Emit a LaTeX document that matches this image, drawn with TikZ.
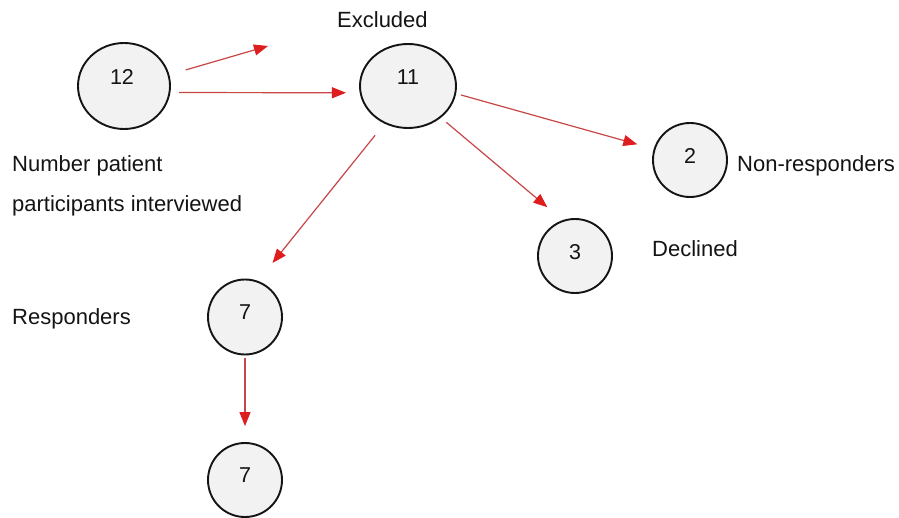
\documentclass[tikz,border=0pt]{standalone}
\usepackage{fontspec}
\setmainfont{Liberation Sans}
\usetikzlibrary{shapes.geometric,arrows.meta}
\definecolor{ink}{RGB}{20,20,20}
\definecolor{disc}{RGB}{242,242,242}
\definecolor{shaft}{RGB}{200,70,70}
\definecolor{tip}{RGB}{222,30,30}
\begin{document}
\begin{tikzpicture}[x=1pt,y=-1pt,
  bubble/.style={ellipse,draw=ink,line width=1.9pt,fill=disc,inner sep=0pt},
  small/.style={bubble,minimum width=74pt,minimum height=74pt},
  big/.style={bubble,minimum width=94pt,minimum height=86pt},
  num/.style={font=\fontsize{21.5}{25}\selectfont,text=ink,inner sep=0pt},
  caption/.style={font=\fontsize{22}{26}\selectfont,text=ink,inner sep=0pt,anchor=base west},
  flow/.style={draw=shaft,line width=1.2pt,-{Triangle[length=14pt,width=11pt,color=tip,fill=tip]}}]
\useasboundingbox[fill=white] (0,0) rectangle (899,518);

% counts
\node[big,minimum width=92pt,label={[num,yshift=9pt,xshift=-2pt]center:12}] (n12) at (124,86) {};
\node[big,minimum width=96pt,minimum height=84pt,label={[num,yshift=8.5pt]center:11}] (n11) at (408,86) {};
\node[small,label={[num,yshift=4.5pt]center:2}] (n2) at (690,160) {};
\node[small,label={[num,yshift=3.5pt]center:3}] (n3) at (575,256) {};
\node[small,minimum height=75pt,label={[num,yshift=4.5pt]center:7}] (n7a) at (245,317) {};
\node[small,label={[num,yshift=5pt]center:7}] (n7b) at (245,480) {};

% captions
\node[caption] (excl) at (337,28) {Excluded};
\node[caption] (cap1) at (12,172) {Number patient};
\node[caption] (cap2) at (12,212) {participants interviewed};
\node[caption] (resp) at (12,325) {Responders};
\node[caption] (nonr) at (737,172) {Non-responders};
\node[caption] (decl) at (652,257) {Declined};

% connectors
\coordinate (loose) at (268,46);
\draw[flow,shorten <=17pt] (n12.14) -- (loose);
\draw[flow,shorten <=8.6pt,shorten >=13.7pt] (n12.-8.8) -- (n11.188.4);
\draw[flow,shorten <=5pt,shorten >=17pt] (n11.-9.2) -- (n2.163.8);
\draw[flow,shorten <=7pt,shorten >=20pt] (n11.-44.8) -- (n3.109.7);
\draw[flow,shorten <=15pt,shorten >=23pt] (n11.238) -- (n7a.70.4);
\draw[flow,shorten <=3pt,shorten >=16pt] (n7a.south) -- (n7b.north);
\end{tikzpicture}
\end{document}
